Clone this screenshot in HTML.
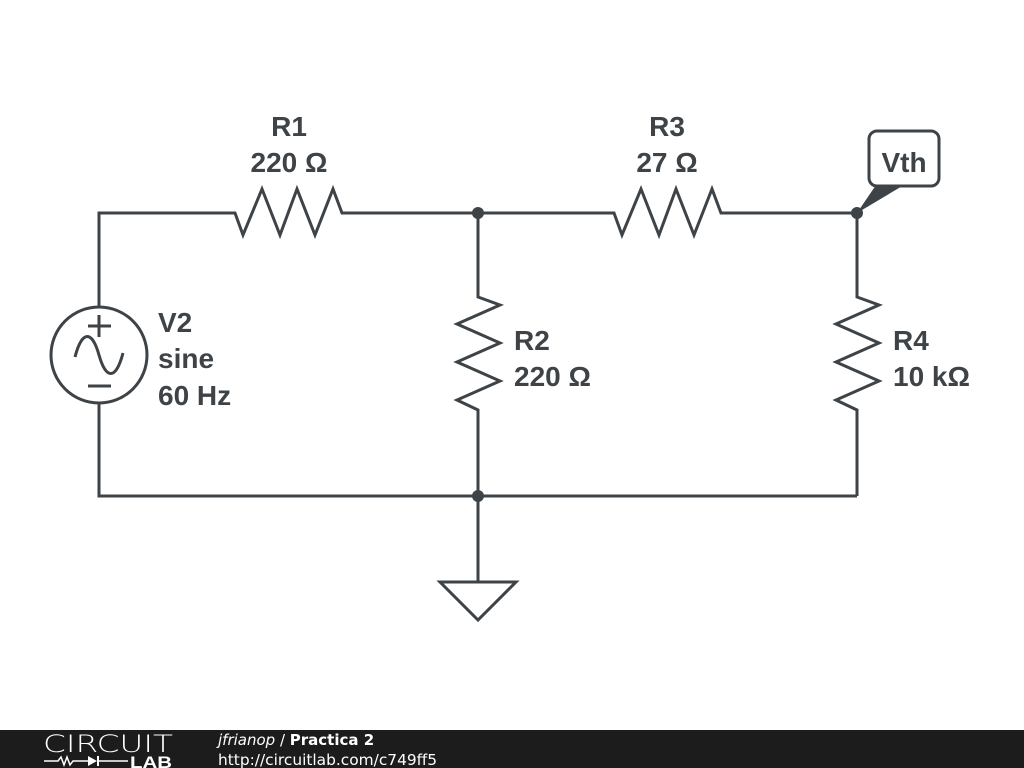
<!DOCTYPE html>
<html><head><style>
body{margin:0;width:1024px;height:768px;background:#fff;overflow:hidden;position:relative}
svg{position:absolute;left:0;top:0}
</style></head><body>
<svg width="1024" height="768" viewBox="0 0 1024 768">
<g stroke="#3d4347" stroke-width="3" fill="none" stroke-linejoin="miter">
<polyline points="99,307 99,213 235,213 243,235 262,189 280,235 297,189 315,235 333,189 342,213 614,213 622,235 641,189 659,235 676,189 694,235 712,189 721,213 857,213"/>
<polyline points="478,213 478,297 500,305 457,324 500,343 457,362 500,381 457,400 478,410 478,496"/>
<polyline points="857,213 857,297 879,305 836,324 879,343 836,362 879,381 836,400 857,410 857,496"/>
<polyline points="99,404 99,496 857,496"/>
<line x1="478" y1="496" x2="478" y2="582"/>
<polygon points="440,582 516,582 478,620"/>
<circle cx="99" cy="355" r="48"/>
<line x1="88" y1="326" x2="111" y2="326"/><line x1="99" y1="315" x2="99" y2="337"/>
<line x1="88" y1="386" x2="111" y2="386"/>
<path d="M75,357 C82,330 92,330 99,355 C106,380 116,380 123,353"/>
<rect x="869" y="131" width="70" height="55" rx="8"/>
</g>
<polygon points="857,213 876,185 904,185" fill="#3d4347"/>
<circle cx="478" cy="213" r="6" fill="#3d4347"/>
<circle cx="478" cy="496" r="6" fill="#3d4347"/>
<circle cx="857" cy="213" r="6" fill="#3d4347"/>
<g font-family="Liberation Sans, sans-serif" font-weight="bold" font-size="28" fill="#3d4347">
<text x="289" y="136" text-anchor="middle">R1</text>
<text x="289" y="172" text-anchor="middle">220 Ω</text>
<text x="667" y="136" text-anchor="middle">R3</text>
<text x="667" y="172" text-anchor="middle">27 Ω</text>
<text x="514" y="350">R2</text>
<text x="514" y="386">220 Ω</text>
<text x="893" y="350">R4</text>
<text x="893" y="386">10 kΩ</text>
<text x="158" y="332">V2</text>
<text x="158" y="368">sine</text>
<text x="158" y="405">60 Hz</text>
<text x="904" y="172" text-anchor="middle">Vth</text>
</g>
<rect x="0" y="730" width="1024" height="38" fill="#1c1c1c"/>
<text x="43" y="752" font-family="DejaVu Sans, sans-serif" font-size="24" fill="#fff" font-weight="200" textLength="130" lengthAdjust="spacingAndGlyphs">CIRCUIT</text>
<polyline points="44,761 58,761 61,757 64,765 67,757 70,765 73,761 88,761" stroke="#fff" stroke-width="1.5" fill="none"/>
<polygon points="88,756 88,766 97,761" fill="#fff"/><line x1="98" y1="756" x2="98" y2="766" stroke="#fff" stroke-width="2"/>
<line x1="98" y1="761" x2="128" y2="761" stroke="#fff" stroke-width="1.5"/>
<text x="130" y="768" font-family="Liberation Sans, sans-serif" font-size="17" font-weight="bold" fill="#fff" textLength="42" lengthAdjust="spacingAndGlyphs">LAB</text>
<text x="218" y="745" font-family="DejaVu Sans, sans-serif" font-size="15" fill="#fff"><tspan font-style="italic">jfrianop</tspan> / <tspan font-weight="bold">Practica 2</tspan></text>
<text x="218" y="765" font-family="DejaVu Sans, sans-serif" font-size="15.4" fill="#fff">http://circuitlab.com/c749ff5</text>
</svg>
</body></html>
